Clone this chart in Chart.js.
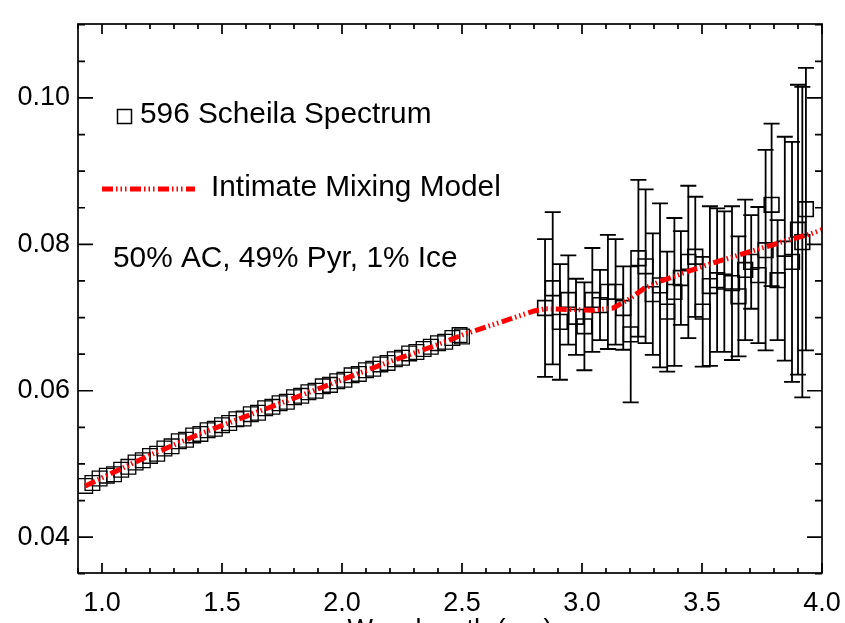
<!DOCTYPE html>
<html>
<head>
<meta charset="utf-8">
<script src="https://cdn.jsdelivr.net/npm/chart.js@4.4.1/dist/chart.umd.min.js"></script>
<style>
  html, body { margin: 0; padding: 0; overflow: hidden; background: #fff; }
  canvas { display: block; }
</style>
</head>
<body>
<canvas id="scheilaChart" width="845" height="650"></canvas>
<script>
/* 596 Scheila spectrum vs intimate mixing model */

// dense part of the spectrum (no error bars)
const specX = [0.93, 0.96, 0.99, 1.02, 1.05, 1.08, 1.11, 1.14, 1.17, 1.20,
    1.23, 1.26, 1.29, 1.32, 1.35, 1.38, 1.41, 1.44, 1.47, 1.50,
    1.53, 1.56, 1.59, 1.62, 1.65, 1.68, 1.71, 1.74, 1.77, 1.80,
    1.83, 1.86, 1.89, 1.92, 1.95, 1.98, 2.01, 2.04, 2.07, 2.10,
    2.13, 2.16, 2.19, 2.22, 2.25, 2.28, 2.31, 2.34, 2.37, 2.40,
    2.43, 2.46, 2.49, 2.50];
const specY = [0.0470, 0.0474, 0.0480, 0.0484, 0.0486, 0.0492, 0.0496, 0.0502, 0.0505, 0.0511,
    0.0514, 0.0521, 0.0524, 0.0531, 0.0533, 0.0539, 0.0541, 0.0546, 0.0548, 0.0553,
    0.0556, 0.0561, 0.0562, 0.0568, 0.0570, 0.0576, 0.0578, 0.0583, 0.0585, 0.0591,
    0.0593, 0.0598, 0.0600, 0.0606, 0.0608, 0.0613, 0.0615, 0.0621, 0.0623, 0.0628,
    0.0630, 0.0636, 0.0638, 0.0643, 0.0645, 0.0651, 0.0653, 0.0657, 0.0660, 0.0665,
    0.0667, 0.0672, 0.0676, 0.0674];

// long-wavelength part of the spectrum, with 1-sigma errors
const errX = [2.846, 2.878, 2.908, 2.943, 2.975, 3.010, 3.043, 3.075, 3.108, 3.140,
    3.172, 3.203, 3.235, 3.265, 3.295, 3.325, 3.355, 3.385, 3.412, 3.443,
    3.472, 3.503, 3.533, 3.563, 3.593, 3.625, 3.652, 3.680, 3.705, 3.735,
    3.765, 3.790, 3.815, 3.845, 3.875, 3.900, 3.918, 3.933];
const errY = [0.0713, 0.0740, 0.0694, 0.0724, 0.0701, 0.0688, 0.0724, 0.0717, 0.0735, 0.0735,
    0.0713, 0.0677, 0.0781, 0.0770, 0.0732, 0.0744, 0.0708, 0.0735, 0.0754, 0.0776,
    0.0783, 0.0708, 0.0743, 0.0751, 0.0749, 0.0747, 0.0729, 0.0765, 0.0776, 0.0758,
    0.0792, 0.0854, 0.0751, 0.0794, 0.0776, 0.0820, 0.0803, 0.0848];
const errE = [0.0094, 0.0104, 0.0079, 0.0061, 0.0052, 0.0060, 0.0071, 0.0048, 0.0078, 0.0072,
    0.0057, 0.0093, 0.0107, 0.0105, 0.0083, 0.0112, 0.0082, 0.0101, 0.0064, 0.0104,
    0.0082, 0.0075, 0.0109, 0.0098, 0.0096, 0.0105, 0.0082, 0.0096, 0.0064, 0.0093,
    0.0137, 0.0111, 0.0082, 0.0153, 0.0164, 0.0198, 0.0212, 0.0193];

// intimate mixing model (50% AC, 49% Pyr, 1% Ice)
const modelX = [0.93, 1.0, 1.2, 1.4, 1.6, 1.8, 2.0, 2.2, 2.4, 2.5,
    2.6, 2.7, 2.8, 2.85, 2.95, 3.05, 3.13, 3.20, 3.26, 3.33,
    3.45, 3.55, 3.65, 3.75, 3.85, 3.95, 4.00];
const modelY = [0.0470, 0.0481, 0.0512, 0.0540, 0.0565, 0.0590, 0.0615, 0.0640, 0.0663, 0.0676,
    0.0687, 0.0698, 0.0709, 0.0712, 0.0711, 0.0710, 0.0713, 0.0726, 0.0740, 0.0750,
    0.0764, 0.0775, 0.0785, 0.0795, 0.0805, 0.0814, 0.0820];

const xTickLabels = [1.0, 1.5, 2.0, 2.5, 3.0, 3.5, 4.0];
const yTickLabels = [0.04, 0.06, 0.08, 0.10];

const FONT_FAMILY = "'Liberation Sans', Arial, Helvetica, sans-serif";
const MODEL_DASH = [11, 3, 1.5, 3, 1.5, 3, 1.5, 3.5];

const toPoints = (xs, ys) => xs.map((x, i) => ({ x: x, y: ys[i] }));

/**
 * Inward ticks on all four sides plus the box
 */
const frameTicks = {
    id: 'frameTicks',
    afterDraw(chart) {
        const { ctx, chartArea: a, scales: { x, y } } = chart;
        ctx.save();
        ctx.strokeStyle = '#000';
        ctx.lineWidth = 1.7;
        ctx.beginPath();
        for (let i = 9; i <= 40; i++) {
            const px = x.getPixelForValue(i / 10);
            const len = i % 5 === 0 ? 10 : 5;
            ctx.moveTo(px, a.bottom); ctx.lineTo(px, a.bottom - len);
            ctx.moveTo(px, a.top); ctx.lineTo(px, a.top + len);
        }
        for (let i = 7; i <= 22; i++) {
            const py = y.getPixelForValue(i * 0.005);
            const len = i % 4 === 0 ? 15 : 7;
            ctx.moveTo(a.left, py); ctx.lineTo(a.left + len, py);
            ctx.moveTo(a.right, py); ctx.lineTo(a.right - len, py);
        }
        ctx.stroke();
        ctx.strokeRect(a.left, a.top, a.right - a.left, a.bottom - a.top);
        ctx.restore();
    }
};

/**
 * Vertical error bars with caps
 */
const errorBars = {
    id: 'errorBars',
    beforeDatasetsDraw(chart) {
        const { ctx, scales: { x, y } } = chart;
        ctx.save();
        ctx.strokeStyle = '#000';
        ctx.lineWidth = 1.8;
        ctx.beginPath();
        errX.forEach((xv, i) => {
            const px = x.getPixelForValue(xv);
            const top = y.getPixelForValue(errY[i] + errE[i]);
            const bot = y.getPixelForValue(errY[i] - errE[i]);
            ctx.moveTo(px, top); ctx.lineTo(px, bot);
            ctx.moveTo(px - 8, top); ctx.lineTo(px + 8, top);
            ctx.moveTo(px - 8, bot); ctx.lineTo(px + 8, bot);
        });
        ctx.stroke();
        ctx.restore();
    }
};

/**
 * Legend and composition note inside the plot
 */
const annotations = {
    id: 'annotations',
    afterDraw(chart) {
        const { ctx } = chart;
        ctx.save();
        ctx.font = '29.8px ' + FONT_FAMILY;
        ctx.fillStyle = '#000';
        ctx.textBaseline = 'alphabetic';
        ctx.textAlign = 'left';

        ctx.strokeStyle = '#000';
        ctx.lineWidth = 1.5;
        ctx.strokeRect(117.5, 109.5, 14, 14);
        ctx.fillText('596 Scheila Spectrum', 140, 123);

        ctx.strokeStyle = '#ff0000';
        ctx.lineWidth = 5;
        ctx.setLineDash(MODEL_DASH);
        ctx.beginPath();
        ctx.moveTo(102, 189);
        ctx.lineTo(195, 189);
        ctx.stroke();
        ctx.setLineDash([]);
        ctx.fillText('Intimate Mixing Model', 211, 196);

        ctx.fillText('50% AC, 49% Pyr, 1% Ice', 113, 267);
        ctx.restore();
    }
};

const createScheilaChart = () => {
    const ctx = document.getElementById('scheilaChart').getContext('2d');
    const tickFont = { family: FONT_FAMILY, size: 27 };

    return new Chart(ctx, {
        type: 'scatter',
        data: {
            datasets: [{
                label: 'Intimate Mixing Model',
                data: toPoints(modelX, modelY),
                showLine: true,
                borderColor: '#ff0000',
                borderWidth: 5,
                borderDash: MODEL_DASH,
                borderCapStyle: 'butt',
                tension: 0,
                pointRadius: 0,
                order: 0
            }, {
                label: '596 Scheila Spectrum',
                data: toPoints(specX, specY),
                pointStyle: 'rect',
                pointRadius: 10.4,
                borderColor: '#000',
                borderWidth: 1.3,
                backgroundColor: 'transparent',
                order: 1
            }, {
                label: '596 Scheila Spectrum (errors)',
                data: toPoints(errX, errY),
                pointStyle: 'rect',
                pointRadius: 10.4,
                borderColor: '#000',
                borderWidth: 1.6,
                backgroundColor: 'transparent',
                order: 2
            }]
        },
        options: {
            responsive: false,
            animation: false,
            devicePixelRatio: 1,
            layout: { padding: { left: 0, right: 23, top: 24, bottom: 0 } },
            scales: {
                x: {
                    type: 'linear',
                    min: 0.9,
                    max: 4.0,
                    afterBuildTicks: (axis) => { axis.ticks = xTickLabels.map(v => ({ value: v })); },
                    afterFit: (axis) => { axis.height = 77; axis.paddingLeft = 0; axis.paddingRight = 0; },
                    grid: { display: false, drawTicks: false },
                    border: { display: false },
                    ticks: {
                        color: '#000',
                        font: tickFont,
                        padding: 14,
                        maxRotation: 0,
                        autoSkip: false,
                        callback: (value) => value.toFixed(1)
                    },
                    title: {
                        display: true,
                        text: 'Wavelength (µm)',
                        color: '#000',
                        font: tickFont,
                        padding: { top: 0, bottom: 3 }
                    }
                },
                y: {
                    type: 'linear',
                    min: 0.0351,
                    max: 0.1101,
                    afterBuildTicks: (axis) => { axis.ticks = yTickLabels.map(v => ({ value: v })); },
                    afterFit: (axis) => { axis.width = 78; axis.paddingTop = 0; axis.paddingBottom = 0; },
                    grid: { display: false, drawTicks: false },
                    border: { display: false },
                    ticks: {
                        color: '#000',
                        font: tickFont,
                        padding: 8,
                        autoSkip: false,
                        callback: (value) => value.toFixed(2)
                    }
                }
            },
            plugins: {
                legend: { display: false },
                tooltip: { enabled: false }
            }
        },
        plugins: [errorBars, frameTicks, annotations]
    });
};

createScheilaChart();
</script>
</body>
</html>
